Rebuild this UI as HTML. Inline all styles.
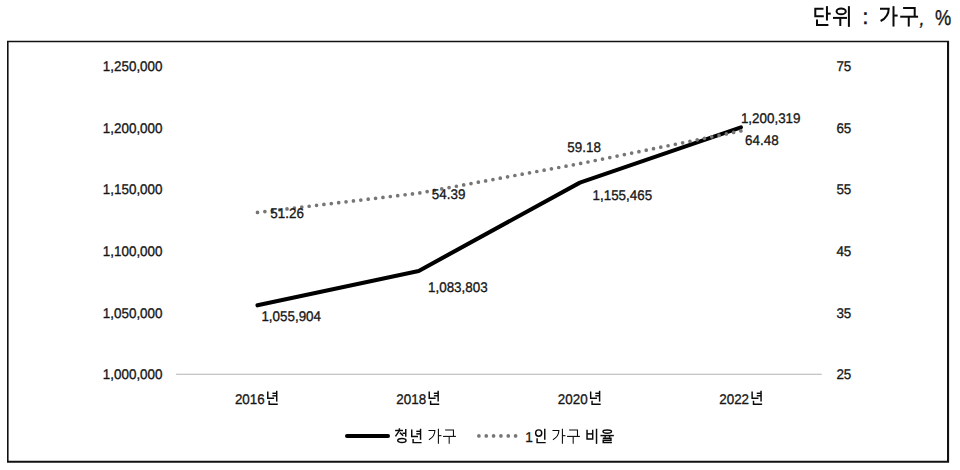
<!DOCTYPE html>
<html lang="ko">
<head>
<meta charset="utf-8">
<title>청년 가구 / 1인 가구 비율</title>
<style>
html,body{margin:0;padding:0;background:#fff}
body{position:relative;width:960px;height:470px;overflow:hidden;font-family:"Liberation Sans",sans-serif;color:#161616}
.t{position:absolute;font-family:"Liberation Sans",sans-serif;font-size:13.42px;line-height:16px;white-space:nowrap;margin:0;padding:0;text-rendering:geometricPrecision;color:#161616;-webkit-text-stroke:0.30px #161616;transform:scaleY(1.045);transform-origin:50% 49%}
.k{color:transparent;-webkit-text-stroke:0 transparent;font-size:14px}
</style>
</head>
<body>
<svg width="960" height="470" viewBox="0 0 960 470" style="position:absolute;left:0;top:0" role="img" aria-label="단위 : 가구, 퍼센트 / 청년 가구, 1인 가구 비율"><title>청년 가구 및 1인 가구 비율 (단위 : 가구, 퍼센트)</title><path fill="#111" fill-rule="evenodd" d="M7 40.65H949.1V462.8H7Z M8.6 42.15V460.75H947V42.15Z"/><line x1="176.1" y1="374.2" x2="821.8" y2="374.2" stroke="#b2b2b2" stroke-width="1.15"/><polyline fill="none" stroke="#000" stroke-width="4.1" stroke-linecap="round" stroke-linejoin="round" points="257.50,305.32 418.70,270.94 579.90,182.64 740.90,127.37"/><polyline fill="none" stroke="#767676" stroke-width="3.7" stroke-linecap="round" stroke-linejoin="round" stroke-dasharray="0 7.4319" points="257.50,212.41 418.70,193.13 579.90,163.62 740.90,130.96"/><line x1="347" y1="435.95" x2="388" y2="435.95" stroke="#000" stroke-width="4.1" stroke-linecap="round"/><line x1="478.9" y1="435.9" x2="516" y2="435.9" stroke="#767676" stroke-width="3.7" stroke-linecap="round" stroke-dasharray="0 7.34"/><g fill="none" stroke="#0a0a0a" stroke-linejoin="miter" stroke-linecap="butt"><g stroke-width="2.00"><path d="M823.5 8.8H815.3V16.15H823.8"/><path d="M826.95 6.15V20.5"/><path d="M826.95 13.65H830.7"/><path d="M817 19.4V25.05H828.4"/><path d="M836.56 11.47a4.6 2.9 0 1 0 9.2 0a4.6 2.9 0 1 0 -9.2 0Z"/><path d="M833 17.9H847"/><path d="M840.3 17.9V26"/><path d="M848.9 6.15V26.85"/><path d="M880 8.65H888.7C888.7 14 885.5 18.5 880.6 21"/><path d="M893.5 6.15V26.55"/><path d="M893.5 15.55H897.65"/><path d="M903.1 8.05H914.7V16.7"/><path d="M900.2 16.7H918.1"/><path d="M908.75 16.7V26.55"/></g><g stroke-width="1.45"><g transform="matrix(1.0142 0 0 0.9773 -149.816 -28.232)"><path d="M411.74 429.4V436.43H418"/><path d="M420.55 428.77V439.83"/><path d="M416.3 431.32H420.55"/><path d="M416.3 433.87H420.55"/><path d="M413.1 438.98V442.6H421.6"/></g><g transform="matrix(1.0142 0 0 0.9773 11.634 -28.232)"><path d="M411.74 429.4V436.43H418"/><path d="M420.55 428.77V439.83"/><path d="M416.3 431.32H420.55"/><path d="M416.3 433.87H420.55"/><path d="M413.1 438.98V442.6H421.6"/></g><g transform="matrix(1.0142 0 0 0.9773 173.084 -28.232)"><path d="M411.74 429.4V436.43H418"/><path d="M420.55 428.77V439.83"/><path d="M416.3 431.32H420.55"/><path d="M416.3 433.87H420.55"/><path d="M413.1 438.98V442.6H421.6"/></g><g transform="matrix(1.0142 0 0 0.9773 334.534 -28.232)"><path d="M411.74 429.4V436.43H418"/><path d="M420.55 428.77V439.83"/><path d="M416.3 431.32H420.55"/><path d="M416.3 433.87H420.55"/><path d="M413.1 438.98V442.6H421.6"/></g><g transform="matrix(1.0000 0 0 1.0000 0.000 0.000)"><path d="M399.4 428.3V430.3"/><path d="M395.1 430.5H403"/><path d="M399.4 430.7L395.45 436.3"/><path d="M399.9 432.6L403.2 435.7"/><path d="M405.75 428.95V436.65"/><path d="M402.5 433.25H405.75"/><path d="M397.7 440.4a4.15 2.0 0 1 0 8.3 0a4.15 2.0 0 1 0 -8.3 0Z"/></g><g transform="matrix(1.0000 0 0 1.0000 0.000 0.000)"><path d="M411.74 429.4V436.43H418"/><path d="M420.55 428.77V439.83"/><path d="M416.3 431.32H420.55"/><path d="M416.3 433.87H420.55"/><path d="M413.1 438.98V442.6H421.6"/></g><g transform="matrix(0.7365 0 0 0.7348 -219.659 424.231)"><path d="M880 8.65H888.7C888.7 14 885.5 18.5 880.6 21"/><path d="M893.5 6.15V26.55"/><path d="M893.5 15.55H897.65"/></g><g transform="matrix(0.7190 0 0 0.7456 -204.209 423.943)"><path d="M903.1 8.05H914.7V16.7"/><path d="M900.2 16.7H918.1"/><path d="M908.75 16.7V26.55"/></g><g transform="matrix(1.0000 0 0 1.0000 0.000 0.000)"><path d="M535.62 433.02a3.06 3.15 0 1 0 6.12 0a3.06 3.15 0 1 0 -6.12 0Z"/><path d="M544.77 428.77V439.83"/><path d="M537.1 438.34V442.6H545.7"/></g><g transform="matrix(0.7365 0 0 0.7348 -95.659 424.231)"><path d="M880 8.65H888.7C888.7 14 885.5 18.5 880.6 21"/><path d="M893.5 6.15V26.55"/><path d="M893.5 15.55H897.65"/></g><g transform="matrix(0.7190 0 0 0.7456 -80.209 423.943)"><path d="M903.1 8.05H914.7V16.7"/><path d="M900.2 16.7H918.1"/><path d="M908.75 16.7V26.55"/></g><g transform="matrix(1.0000 0 0 1.0000 0.000 0.000)"><path d="M587.04 429.83V438.98H592.7V429.83"/><path d="M587.04 433.87H592.7"/><path d="M596.53 428.77V443.87"/></g><g transform="matrix(1.0000 0 0 1.0000 0.000 0.000)"><path d="M603.0 431.62a4.25 1.6 0 1 0 8.5 0a4.25 1.6 0 1 0 -8.5 0Z"/><path d="M600.45 435.57H613.85"/><path d="M605.13 435.57V437.7"/><path d="M609.6 435.57V437.7"/><path d="M602.8 438.25H610.95V440.3H603.2V442.45H611.9"/></g></g></g></svg>
<div class="t" style="top:59px;right:797.50px;text-align:right;">1,250,000</div>
<div class="t" style="top:59px;left:836.40px;">75</div>
<div class="t" style="top:121px;right:797.50px;text-align:right;">1,200,000</div>
<div class="t" style="top:121px;left:836.40px;">65</div>
<div class="t" style="top:182px;right:797.50px;text-align:right;">1,150,000</div>
<div class="t" style="top:182px;left:836.40px;">55</div>
<div class="t" style="top:244px;right:797.50px;text-align:right;">1,100,000</div>
<div class="t" style="top:244px;left:836.40px;">45</div>
<div class="t" style="top:306px;right:797.50px;text-align:right;">1,050,000</div>
<div class="t" style="top:306px;left:836.40px;">35</div>
<div class="t" style="top:367px;right:797.50px;text-align:right;">1,000,000</div>
<div class="t" style="top:367px;left:836.40px;">25</div>
<div class="t" style="top:392px;left:234.90px;">2016</div>
<div class="t k" style="left:266.0px;top:390px">년</div>
<div class="t" style="top:392px;left:396.35px;">2018</div>
<div class="t k" style="left:427.4px;top:390px">년</div>
<div class="t" style="top:392px;left:557.80px;">2020</div>
<div class="t k" style="left:588.9px;top:390px">년</div>
<div class="t" style="top:392px;left:719.25px;">2022</div>
<div class="t k" style="left:750.3px;top:390px">년</div>
<div class="t" style="top:206px;left:270.30px;">51.26</div>
<div class="t" style="top:187px;left:431.80px;">54.39</div>
<div class="t" style="top:140px;left:567.30px;">59.18</div>
<div class="t" style="top:133px;left:745.10px;">64.48</div>
<div class="t" style="top:309px;left:261.40px;">1,055,904</div>
<div class="t" style="top:280px;left:428.00px;">1,083,803</div>
<div class="t" style="top:188px;left:592.50px;">1,155,465</div>
<div class="t" style="top:111px;left:740.90px;">1,200,319</div>
<div class="t k" style="left:395px;top:428px">청년 가구</div>
<div class="t" style="top:429.5px;font-size:13.70px;line-height:16.33px;left:525.20px;">1</div>
<div class="t k" style="left:534px;top:428px">인 가구 비율</div>
<div class="t k" style="left:814px;top:8px">단위</div>
<div class="t" style="top:6px;font-size:20.80px;line-height:24.80px;left:862.60px;-webkit-text-stroke:0.6px #161616;">:</div>
<div class="t k" style="left:880px;top:8px">가구</div>
<div class="t" style="top:8.2px;font-size:18.50px;line-height:22.06px;left:919.50px;font-style:italic;-webkit-text-stroke:0.3px #161616;">,</div>
<div class="t" style="top:6px;font-size:21.50px;line-height:25.63px;left:934.90px;transform:scale(0.85,1);transform-origin:0 50%;-webkit-text-stroke:0.35px #161616;">%</div>
</body>
</html>
